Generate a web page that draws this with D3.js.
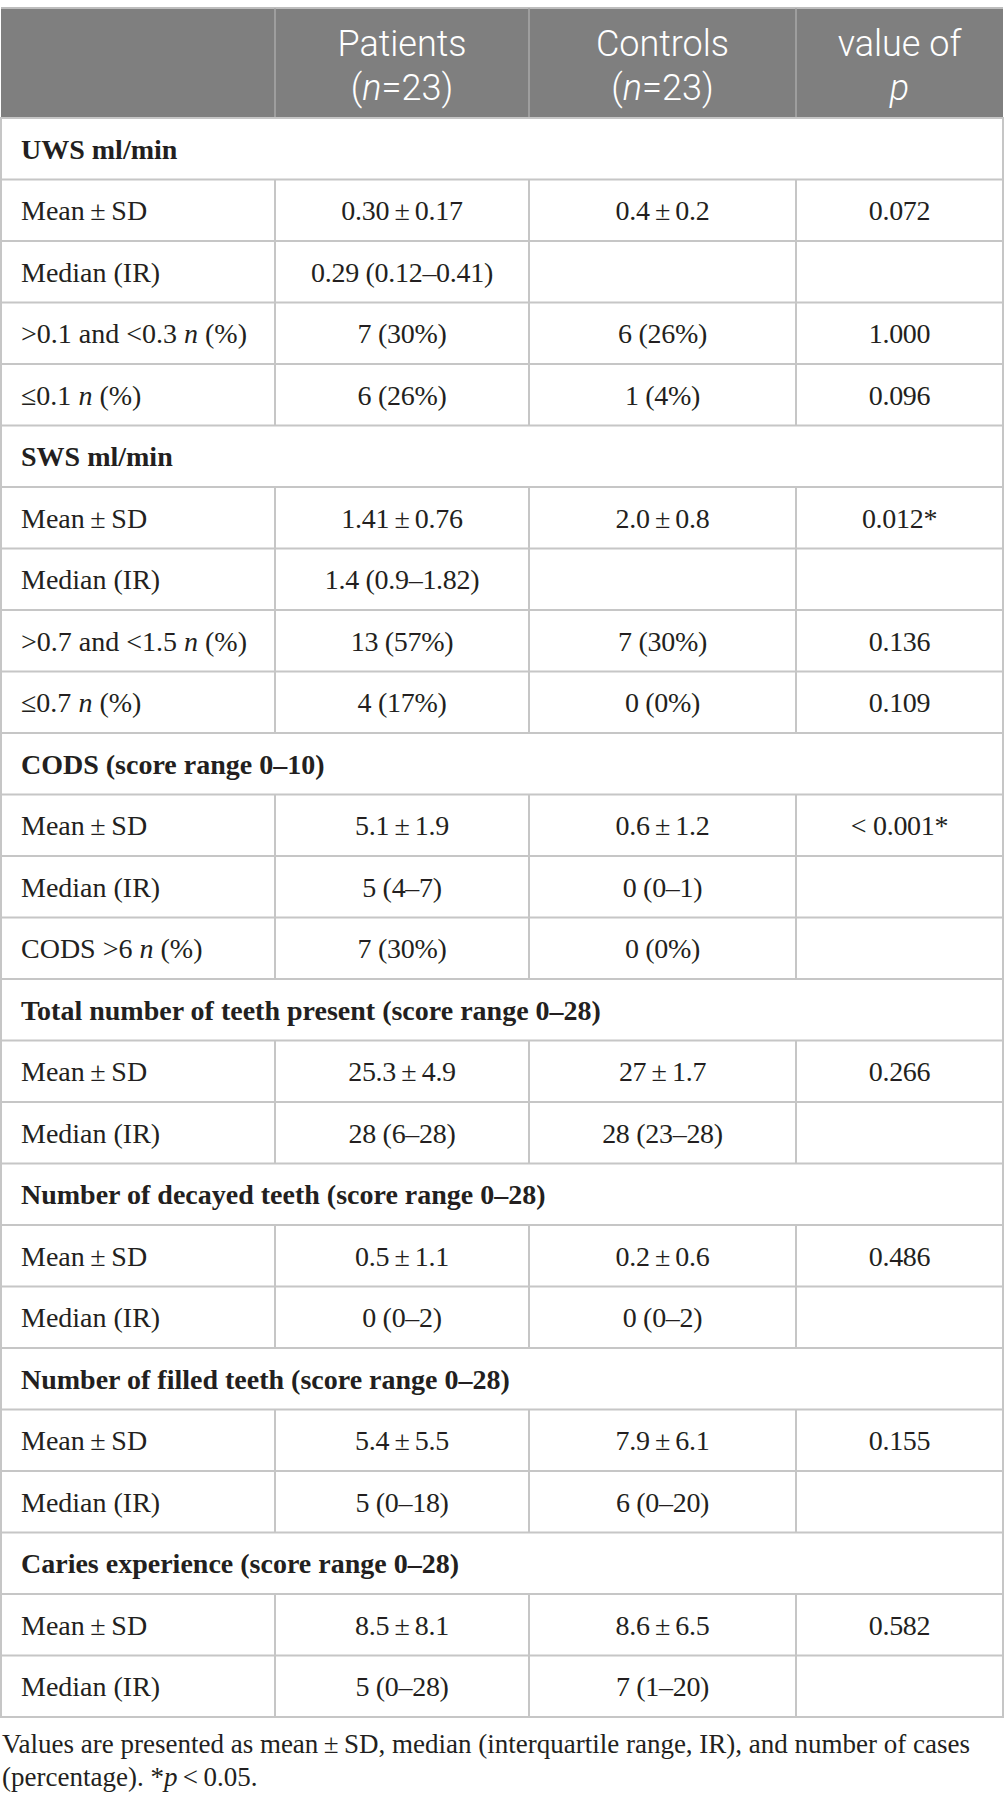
<!DOCTYPE html>
<html>
<head>
<meta charset="utf-8">
<script src="https://cdn.jsdelivr.net/npm/d3@7/dist/d3.min.js"></script>
<style>
  html, body { margin: 0; padding: 0; background: #ffffff; }
  svg { display: block; }
</style>
</head>
<body>
<svg id="chart" width="1005" height="1813"></svg>
<script>
// ---- Data ----
const headerLine1 = ["", "Patients", "Controls", "value of"];
const headerLine2 = ["", "(_n_=23)", "(_n_=23)", "_p_"];

const rowLabels = [
  "UWS ml/min",
  "Mean\u2009±\u2009SD",
  "Median (IR)",
  ">0.1 and <0.3 _n_ (%)",
  "≤0.1 _n_ (%)",
  "SWS ml/min",
  "Mean\u2009±\u2009SD",
  "Median (IR)",
  ">0.7 and <1.5 _n_ (%)",
  "≤0.7 _n_ (%)",
  "CODS (score range 0–10)",
  "Mean\u2009±\u2009SD",
  "Median (IR)",
  "CODS >6 _n_ (%)",
  "Total number of teeth present (score range 0–28)",
  "Mean\u2009±\u2009SD",
  "Median (IR)",
  "Number of decayed teeth (score range 0–28)",
  "Mean\u2009±\u2009SD",
  "Median (IR)",
  "Number of filled teeth (score range 0–28)",
  "Mean\u2009±\u2009SD",
  "Median (IR)",
  "Caries experience (score range 0–28)",
  "Mean\u2009±\u2009SD",
  "Median (IR)"
];
const sectionRows = [0, 5, 10, 14, 17, 20, 23];

const patientValues = [
  "", "0.30\u2009±\u20090.17", "0.29 (0.12–0.41)", "7 (30%)", "6 (26%)",
  "", "1.41\u2009±\u20090.76", "1.4 (0.9–1.82)", "13 (57%)", "4 (17%)",
  "", "5.1\u2009±\u20091.9", "5 (4–7)", "7 (30%)",
  "", "25.3\u2009±\u20094.9", "28 (6–28)",
  "", "0.5\u2009±\u20091.1", "0 (0–2)",
  "", "5.4\u2009±\u20095.5", "5 (0–18)",
  "", "8.5\u2009±\u20098.1", "5 (0–28)"
];
const controlValues = [
  "", "0.4\u2009±\u20090.2", "", "6 (26%)", "1 (4%)",
  "", "2.0\u2009±\u20090.8", "", "7 (30%)", "0 (0%)",
  "", "0.6\u2009±\u20091.2", "0 (0–1)", "0 (0%)",
  "", "27\u2009±\u20091.7", "28 (23–28)",
  "", "0.2\u2009±\u20090.6", "0 (0–2)",
  "", "7.9\u2009±\u20096.1", "6 (0–20)",
  "", "8.6\u2009±\u20096.5", "7 (1–20)"
];
const pValues = [
  "", "0.072", "", "1.000", "0.096",
  "", "0.012*", "", "0.136", "0.109",
  "", "< 0.001*", "", "",
  "", "0.266", "",
  "", "0.486", "",
  "", "0.155", "",
  "", "0.582", ""
];
const footnoteLines = [
  "Values are presented as mean\u2009±\u2009SD, median (interquartile range, IR), and number of cases",
  "(percentage). *_p_\u2009<\u20090.05."
];

// ---- Layout ----
const tableLeft = 1, tableRight = 1003;
const headerTop = 8, headerBottom = 118, tableBottom = 1717;
const colEdges = [tableLeft, 275, 529, 796, tableRight];
const serif = "'Liberation Serif', 'Times New Roman', serif";
const sans = "Roboto, 'Open Sans', sans-serif";
const textColor = "#231f20";
const lineColor = "#c6c6c6";

const svg = d3.select("#chart");

const y = d3.scaleBand()
  .domain(d3.range(rowLabels.length))
  .range([headerBottom, tableBottom])
  .paddingInner(0).paddingOuter(0);

const colCenter = i => (colEdges[i] + colEdges[i + 1]) / 2;

// write text with _italic_ markers as tspans
function richText(sel, str, first) {
  const parts = str.split("_");
  let placed = false;
  parts.forEach((p, i) => {
    if (p === "") return;
    const ts = sel.append("tspan")
      .attr("font-style", i % 2 === 1 ? "italic" : "normal")
      .text(p);
    if (first && !placed) {
      Object.entries(first).forEach(([k, v]) => ts.attr(k, v));
    }
    placed = true;
  });
}

// ---- Header ----
svg.append("rect")
  .attr("x", tableLeft).attr("y", headerTop)
  .attr("width", tableRight - tableLeft).attr("height", headerBottom - headerTop)
  .attr("fill", "#7f7f7f");

svg.append("line")
  .attr("x1", tableLeft).attr("x2", tableRight)
  .attr("y1", headerTop).attr("y2", headerTop)
  .attr("stroke", "#bdbdbd").attr("stroke-width", 2);

[1, 2, 3].forEach(i => {
  svg.append("line")
    .attr("x1", colEdges[i]).attr("x2", colEdges[i])
    .attr("y1", headerTop).attr("y2", headerBottom)
    .attr("stroke", "#a9a9a9").attr("stroke-width", 1.5);
});

// one text element per header cell (two lines)
headerLine1.forEach((t1, i) => {
  if (!t1) return;
  const cx = colCenter(i);
  const txt = svg.append("text")
    .attr("x", cx)
    .attr("y", 56)
    .attr("text-anchor", "middle")
    .attr("font-family", sans)
    .attr("font-weight", 300)
    .attr("font-size", 36)
    .attr("fill", "#ffffff");
  txt.append("tspan").attr("x", cx).attr("y", 56).text(t1);
  richText(txt, headerLine2[i], { x: cx, y: 100 });
});

// ---- Body grid ----
const grid = svg.append("g").attr("stroke", lineColor).attr("stroke-width", 2);

d3.range(rowLabels.length + 1).forEach(r => {
  const yy = r < rowLabels.length ? y(r) : tableBottom;
  grid.append("line")
    .attr("x1", tableLeft - 1).attr("x2", tableRight + 1)
    .attr("y1", yy).attr("y2", yy);
});

[tableLeft, tableRight].forEach(xx => {
  grid.append("line")
    .attr("x1", xx).attr("x2", xx)
    .attr("y1", headerBottom).attr("y2", tableBottom);
});

rowLabels.forEach((_, r) => {
  if (sectionRows.includes(r)) return;
  [1, 2, 3].forEach(i => {
    grid.append("line")
      .attr("x1", colEdges[i]).attr("x2", colEdges[i])
      .attr("y1", y(r)).attr("y2", y(r) + y.bandwidth());
  });
});

// ---- Body text ----
const fs = 28;
const baseOff = 10;
rowLabels.forEach((lab, r) => {
  const cy = y(r) + y.bandwidth() / 2 + baseOff;
  const isSection = sectionRows.includes(r);
  const t = svg.append("text")
    .attr("x", 21).attr("y", cy)
    .attr("font-family", serif)
    .attr("font-size", fs)
    .attr("font-weight", isSection ? "bold" : "normal")
    .attr("fill", textColor);
  richText(t, lab);

  [patientValues[r], controlValues[r], pValues[r]].forEach((v, ci) => {
    if (!v) return;
    svg.append("text")
      .attr("x", colCenter(ci + 1)).attr("y", cy)
      .attr("text-anchor", "middle")
      .attr("font-family", serif)
      .attr("font-size", fs)
      .attr("letter-spacing", -0.3)
      .attr("fill", textColor)
      .text(v);
  });
});

// ---- Footnote ----
footnoteLines.forEach((l, i) => {
  const t = svg.append("text")
    .attr("x", 2).attr("y", 1753 + i * 33)
    .attr("font-family", serif)
    .attr("font-size", 27)
    .attr("fill", textColor);
  richText(t, l);
});
</script>
</body>
</html>
